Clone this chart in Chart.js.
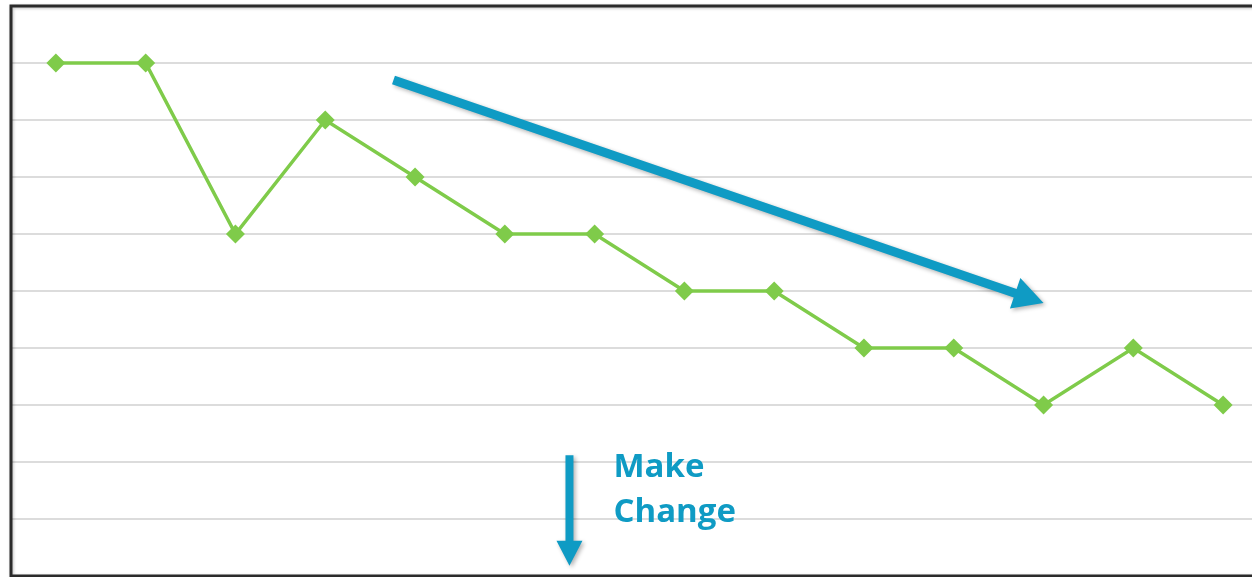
<!DOCTYPE html>
<html>
<head>
<meta charset="utf-8">
<script src="https://cdn.jsdelivr.net/npm/chart.js@4/dist/chart.umd.min.js"></script>
<style>
  html, body { margin: 0; padding: 0; background: #fff; overflow: hidden; }
  #wrap { position: relative; width: 1268px; height: 577px; }
</style>
</head>
<body>
<div id="wrap"><canvas id="trend"></canvas></div>
<script>
// Weekly readings
const labels = ['1', '2', '3', '4', '5', '6', '7', '8', '9', '10', '11', '12', '13', '14'];
const values = [9, 9, 6, 8, 7, 6, 6, 5, 5, 4, 4, 3, 4, 3];
const yTicks = [0, 10];

const green = '#7fcb4a';
const blue = '#0f9bc4';

// Trend arrow and note, placed in data units (x index, y value)
const trendFrom = [3.76, 8.70];
const trendTo = [11.0, 4.79];
const changeFrom = [5.72, 2.12];
const changeTo = [5.72, 0.18];
const noteAt = [6.21, 1.73];
const noteLines = ['Make', 'Change'];

function arrow(ctx, x1, y1, x2, y2, shaft, headLen, headW) {
    const a = Math.atan2(y2 - y1, x2 - x1);
    const len = Math.hypot(x2 - x1, y2 - y1);
    ctx.save();
    ctx.translate(x1, y1);
    ctx.rotate(a);
    ctx.beginPath();
    ctx.moveTo(0, -shaft / 2);
    ctx.lineTo(len - headLen, -shaft / 2);
    ctx.lineTo(len - headLen, -headW / 2);
    ctx.lineTo(len, 0);
    ctx.lineTo(len - headLen, headW / 2);
    ctx.lineTo(len - headLen, shaft / 2);
    ctx.lineTo(0, shaft / 2);
    ctx.closePath();
    ctx.fill();
    ctx.restore();
}

const framePlugin = {
    id: 'frame',
    beforeDatasetsDraw(chart) {
        const { ctx, chartArea: a } = chart;
        ctx.save();
        ctx.shadowColor = 'rgba(0,0,0,0.25)';
        ctx.shadowBlur = 3;
        ctx.shadowOffsetX = 1;
        ctx.shadowOffsetY = 1;
        ctx.strokeStyle = '#2b2b2b';
        ctx.lineWidth = 3;
        ctx.strokeRect(a.left, a.top, a.right - a.left, a.bottom - a.top);
        ctx.restore();
    },
    afterDatasetsDraw(chart) {
        const { ctx, scales: { x, y } } = chart;
        const px = p => [x.getPixelForValue(p[0]), y.getPixelForValue(p[1])];
        ctx.save();
        ctx.fillStyle = blue;
        ctx.shadowColor = 'rgba(0,0,0,0.3)';
        ctx.shadowBlur = 4;
        ctx.shadowOffsetX = 2;
        ctx.shadowOffsetY = 2;
        const a1 = px(trendFrom), a2 = px(trendTo);
        arrow(ctx, a1[0], a1[1], a2[0], a2[1], 9, 30, 32);
        const b1 = px(changeFrom), b2 = px(changeTo);
        arrow(ctx, b1[0], b1[1], b2[0], b2[1], 8, 25, 26);
        ctx.shadowColor = 'transparent';
        ctx.font = 'bold 33px "Open Sans", sans-serif';
        ctx.textBaseline = 'alphabetic';
        const n = px(noteAt);
        noteLines.forEach((t, i) => ctx.fillText(t, n[0], n[1] + i * 45));
        ctx.restore();
    }
};

new Chart(document.getElementById('trend'), {
    type: 'line',
    data: {
        labels: labels,
        datasets: [{
            data: values,
            borderColor: green,
            backgroundColor: green,
            borderWidth: 3.5,
            pointStyle: 'rectRot',
            pointRadius: 9.5,
            pointHoverRadius: 9.5,
            pointBorderWidth: 0,
            tension: 0
        }]
    },
    options: {
        responsive: true,
        maintainAspectRatio: false,
        animation: false,
        layout: { autoPadding: false, padding: { left: 11, top: 6, bottom: 1, right: 0 } },
        plugins: { legend: { display: false }, tooltip: { enabled: false } },
        scales: {
            x: {
                type: 'category',
                display: false,
                offset: true
            },
            y: {
                min: yTicks[0],
                max: yTicks[1],
                ticks: { display: false, stepSize: 1 },
                grid: { color: '#dcdcdc', lineWidth: 2, drawTicks: false },
                border: { display: false }
            }
        }
    },
    plugins: [framePlugin]
});
</script>
</body>
</html>
